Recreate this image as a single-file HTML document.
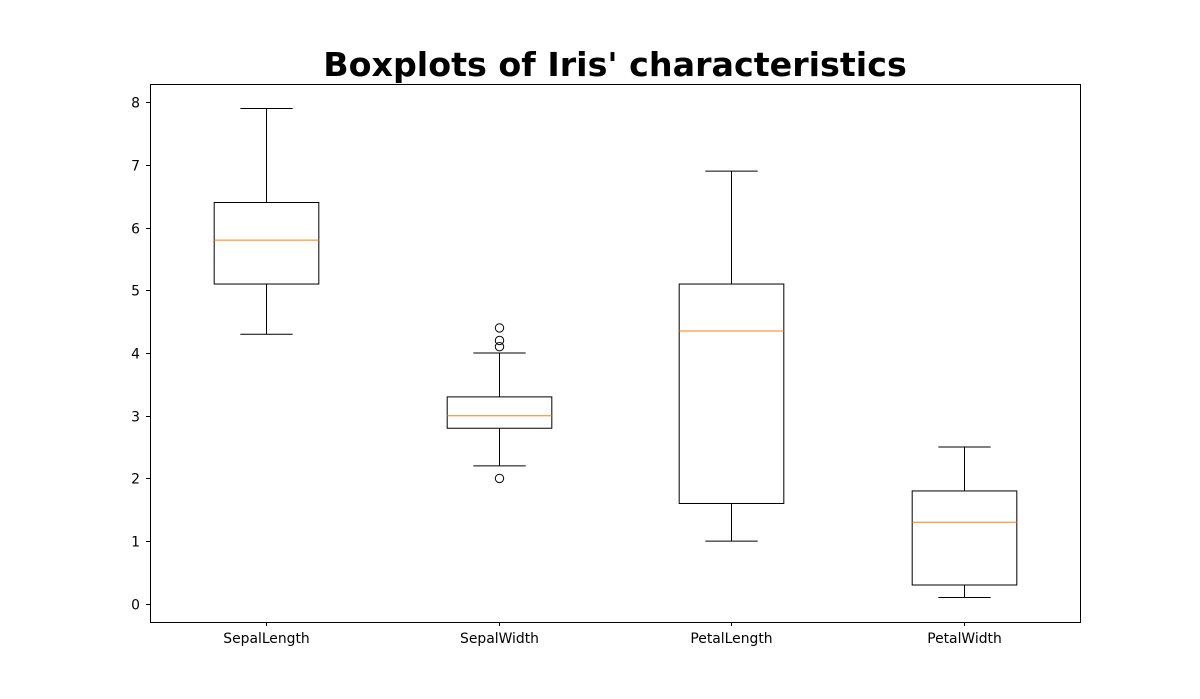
<!DOCTYPE html>
<html><head><meta charset="utf-8"><style>
html,body{margin:0;padding:0;background:#fff;}
svg{display:block;font-family:"DejaVu Sans","Liberation Sans",sans-serif;}
</style></head><body>
<svg id="chart" width="1200" height="699">
<text x="615" y="76" text-anchor="middle" font-size="33.3" font-weight="bold">Boxplots of Iris' characteristics</text>
<g id="marks"></g>
<rect x="150.5" y="84.5" width="930" height="538" fill="none" stroke="#000" stroke-width="1"/>
</svg>
<script>
const categories = ["SepalLength","SepalWidth","PetalLength","PetalWidth"];
const whiskerLow = [4.3, 2.2, 1.0, 0.1];
const q1 = [5.1, 2.8, 1.6, 0.3];
const medians = [5.8, 3.0, 4.35, 1.3];
const q3 = [6.4, 3.3, 5.1, 1.8];
const whiskerHigh = [7.9, 4.0, 6.9, 2.5];
const fliers = [[], [4.4, 4.1, 4.2, 2.0], [], []];
const yTicks = [0,1,2,3,4,5,6,7,8];

const L=150, R=1080, T=84, B=622, y0=-0.29, y1=8.29;
const ys = v => B - (v - y0) / (y1 - y0) * (B - T);
const xs = i => L + (i + 1 - 0.5) / 4 * (R - L);
const NS = "http://www.w3.org/2000/svg";
const g = document.getElementById('marks');
function mk(tag, attrs, parent){const e=document.createElementNS(NS,tag);for(const k in attrs)e.setAttribute(k,attrs[k]);(parent||g).appendChild(e);return e;}

yTicks.forEach(t=>{
  const y=Math.round(ys(t))+0.5;
  const tk=mk('line',{x1:150,x2:146,y1:y,y2:y,stroke:'#000'});
  
  
  const tx=mk('text',{x:140,y:y+5,'text-anchor':'end','font-size':13.9});
  tx.textContent=t;
  
  
});
const hw = 0.25*(R-L)/4*0.9, cw = hw/2;
categories.forEach((c,i)=>{
  const x=Math.round(xs(i))+0.5;
  const tk=mk('line',{x1:x,x2:x,y1:622,y2:626,stroke:'#000'});
  
  
  const tx=mk('text',{x:x,y:643,'text-anchor':'middle','font-size':13.9});
  tx.textContent=c;
  
  
  const grp=mk('g',{});
  
  
  const yq1=ys(q1[i]), yq3=ys(q3[i]);
  mk('rect',{x:x-hw,y:yq3,width:2*hw,height:yq1-yq3,fill:'none',stroke:'#000'},grp);
  mk('line',{x1:x,x2:x,y1:yq1,y2:ys(whiskerLow[i]),stroke:'#000'},grp);
  mk('line',{x1:x,x2:x,y1:yq3,y2:ys(whiskerHigh[i]),stroke:'#000'},grp);
  mk('line',{x1:x-cw,x2:x+cw,y1:ys(whiskerLow[i]),y2:ys(whiskerLow[i]),stroke:'#000'},grp);
  mk('line',{x1:x-cw,x2:x+cw,y1:ys(whiskerHigh[i]),y2:ys(whiskerHigh[i]),stroke:'#000'},grp);
  mk('line',{x1:x-hw,x2:x+hw,y1:ys(medians[i]),y2:ys(medians[i]),stroke:'#ff7f0e'},grp);
  fliers[i].forEach(f=>{
    const p=mk('circle',{cx:x,cy:ys(f),r:4.2,fill:'none',stroke:'#000'},grp);
    
    
  });
});
</script>
</body></html>
